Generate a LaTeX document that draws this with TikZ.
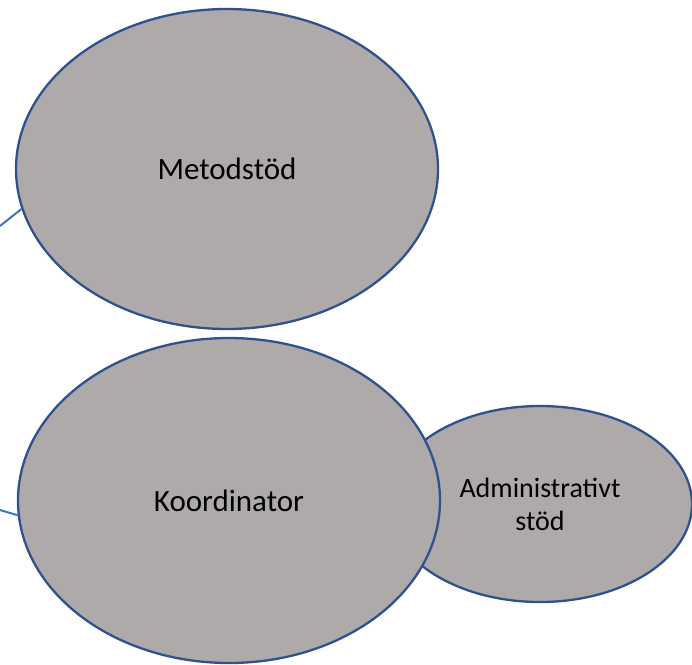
\documentclass[tikz,border=0pt]{standalone}
\usepackage{fontspec}
\setmainfont{Carlito}
\usetikzlibrary{shapes.geometric}
\definecolor{bubblegray}{HTML}{AEAAAA}
\definecolor{bubbleedge}{HTML}{2F528F}
\definecolor{linkblue}{HTML}{4472C4}
\begin{document}
\begin{tikzpicture}[x=1pt,y=-1pt]
			\tikzstyle{every node}+=[inner sep=0pt]
			\tikzstyle{bubble}=[ellipse, draw=bubbleedge, fill=bubblegray, line width=2.3pt, text=black]
			\tikzstyle{link}=[draw=linkblue, line width=2pt]
			\useasboundingbox (0,0) rectangle (692,664);
			\node [bubble, minimum width=304, minimum height=196, align=center, font=\fontsize{28}{33}\selectfont] (admin) at (540,504) {Administrativt\\stöd};
			\node [bubble, minimum width=422, minimum height=325, font=\fontsize{31}{37}\selectfont] (koord) at (229,500.5) {Koordinator};
			\node [bubble, minimum width=422, minimum height=320, font=\fontsize{31}{37}\selectfont] (metod) at (227,169) {Metodstöd};
			\coordinate (linkA) at (0,226);
			\coordinate (linkB) at (0,510);
			\draw [link] (linkA) -- (metod.191);
			\draw [link] (linkB) -- (koord.184.8);
\end{tikzpicture}
\end{document}
